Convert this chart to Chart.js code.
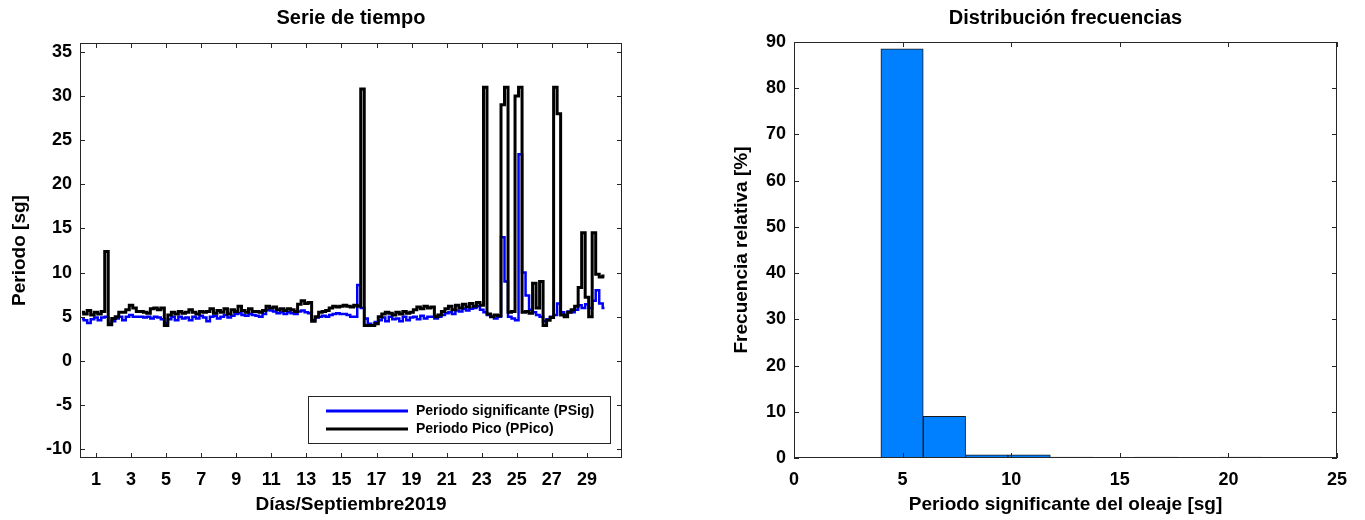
<!DOCTYPE html>
<html>
<head>
<meta charset="utf-8">
<script src="https://cdn.jsdelivr.net/npm/chart.js@4.4.1/dist/chart.umd.min.js"></script>
<style>
  body { margin: 0; background: #fff; width: 1365px; height: 520px; overflow: hidden; }
  .panel { position: absolute; top: 0; }
</style>
</head>
<body>
<div class="panel" style="left:0"><canvas id="serie" width="680" height="520"></canvas></div>
<div class="panel" style="left:680px"><canvas id="hist" width="685" height="520"></canvas></div>
<script>
// Datos
// Tiempo de la serie (dias de septiembre 2019), cada 0.2 dias
const dias = [
  0.2, 0.4, 0.6, 0.8, 1.0,   1.2, 1.4, 1.6, 1.8, 2.0,
  2.2, 2.4, 2.6, 2.8, 3.0,   3.2, 3.4, 3.6, 3.8, 4.0,
  4.2, 4.4, 4.6, 4.8, 5.0,   5.2, 5.4, 5.6, 5.8, 6.0,
  6.2, 6.4, 6.6, 6.8, 7.0,   7.2, 7.4, 7.6, 7.8, 8.0,
  8.2, 8.4, 8.6, 8.8, 9.0,   9.2, 9.4, 9.6, 9.8, 10.0,
  10.2, 10.4, 10.6, 10.8, 11.0,   11.2, 11.4, 11.6, 11.8, 12.0,
  12.2, 12.4, 12.6, 12.8, 13.0,   13.2, 13.4, 13.6, 13.8, 14.0,
  14.2, 14.4, 14.6, 14.8, 15.0,   15.2, 15.4, 15.6, 15.8, 16.0,
  16.2, 16.4, 16.6, 16.8, 17.0,   17.2, 17.4, 17.6, 17.8, 18.0,
  18.2, 18.4, 18.6, 18.8, 19.0,   19.2, 19.4, 19.6, 19.8, 20.0,
  20.2, 20.4, 20.6, 20.8, 21.0,   21.2, 21.4, 21.6, 21.8, 22.0,
  22.2, 22.4, 22.6, 22.8, 23.0,   23.2, 23.4, 23.6, 23.8, 24.0,
  24.2, 24.4, 24.6, 24.8, 25.0,   25.2, 25.4, 25.6, 25.8, 26.0,
  26.2, 26.4, 26.6, 26.8, 27.0,   27.2, 27.4, 27.6, 27.8, 28.0,
  28.2, 28.4, 28.6, 28.8, 29.0,   29.2, 29.4, 29.6, 29.8, 30.0
];

// Periodo significante (PSig) [sg]
const pSig = [
  4.8, 4.6, 4.3, 4.7, 4.9,   4.6, 4.9, 5.0, 4.2, 4.5,
  4.8, 5.0, 4.6, 5.0, 5.2,   5.0, 5.0, 5.0, 4.9, 5.0,
  4.8, 5.0, 4.9, 4.7, 4.3,   4.7, 5.0, 4.6, 5.0, 4.8,
  4.9, 4.6, 5.0, 4.8, 5.1,   4.9, 4.5, 5.0, 5.1, 4.8,
  5.0, 5.2, 4.9, 5.1, 5.3,   5.4, 5.2, 5.1, 5.3, 5.2,
  5.1, 5.0, 5.3, 5.8, 5.7,   5.6, 5.4, 5.5, 5.3, 5.5,
  5.4, 5.3, 5.6, 5.7, 5.5,   5.4, 4.6, 4.9, 5.0, 5.1,
  5.0, 5.2, 5.3, 5.4, 5.3,   5.3, 5.2, 5.0, 5.0, 8.6,
  6.0, 4.8, 4.2, 4.0, 4.4,   4.6, 4.9, 4.5, 5.0, 4.7,
  4.8, 4.5, 5.0, 4.6, 4.9,   5.0, 4.7, 5.1, 4.8, 5.0,
  5.0, 4.8, 5.0, 5.2, 5.4,   5.5, 5.3, 5.7, 5.6, 5.9,
  5.7, 5.9, 6.0, 6.2, 5.8,   5.5, 5.2, 5.0, 4.8, 5.0,
  14.0, 9.0, 5.0, 4.8, 4.6,   23.4, 10.0, 7.4, 5.8, 5.5,
  5.2, 5.0, 4.5, 4.7, 5.0,   5.2, 6.5, 5.5, 5.2, 5.6,
  5.5, 5.8, 6.3, 6.0, 6.4,   6.0, 6.8, 8.0, 6.5, 6.0
];

// Periodo pico (PPico) [sg]
const pPico = [
  5.5, 5.3, 5.7, 5.2, 5.5,   5.3, 5.6, 12.4, 4.1, 4.8,
  5.0, 5.5, 5.5, 5.8, 6.3,   6.0, 5.6, 5.6, 5.5, 5.4,
  5.9, 6.0, 5.8, 6.0, 4.0,   5.2, 5.5, 5.3, 5.6, 5.4,
  5.5, 5.8, 5.5, 5.3, 5.6,   5.5, 5.6, 5.9, 5.4, 5.7,
  5.5, 5.9, 5.3, 5.8, 5.6,   6.2, 5.7, 5.5, 5.9, 5.6,
  5.6, 5.5, 5.7, 6.2, 6.0,   6.1, 5.8, 5.9, 5.7, 5.9,
  5.8, 5.6, 6.4, 6.8, 6.5,   6.6, 4.5, 5.0, 5.5, 5.6,
  5.7, 6.0, 6.2, 6.1, 6.2,   6.3, 6.2, 6.1, 6.3, 6.2,
  30.8, 4.0, 4.0, 4.0, 4.2,   5.0, 5.3, 5.5, 5.4, 5.2,
  5.5, 5.3, 5.6, 5.4, 5.5,   5.8, 6.1, 5.9, 6.2, 6.0,
  6.1, 5.0, 5.2, 5.6, 5.9,   6.2, 5.8, 6.3, 6.0, 6.4,
  6.1, 6.5, 6.2, 6.6, 6.3,   31.0, 5.3, 5.0, 5.2, 5.1,
  29.0, 31.0, 5.5, 5.6, 30.0,   31.0, 5.5, 5.6, 5.4, 8.8,
  6.0, 9.0, 4.0, 4.6, 4.9,   31.0, 28.0, 5.2, 5.0, 5.5,
  5.8, 6.2, 8.3, 14.5, 7.2,   5.0, 14.5, 9.8, 9.5, 9.6
];

// Etiquetas de ejes
const diasTicks = [1, 3, 5, 7, 9, 11, 13, 15, 17, 19, 21, 23, 25, 27, 29];
const periodoTicks = [-10, -5, 0, 5, 10, 15, 20, 25, 30, 35];

// Histograma del periodo significante
const binCentros = [4.975, 6.925, 8.875, 10.825, 12.775, 14.725, 16.675, 18.625, 20.575, 22.525];
const frecuencias = [88.5, 9.0, 0.7, 0.7, 0.2, 0.1, 0.2, 0.1, 0.2, 0.1];
const histXTicks = [0, 5, 10, 15, 20, 25];
const histYTicks = [0, 10, 20, 30, 40, 50, 60, 70, 80, 90];

// Estilo general
Chart.defaults.font.family = '"Liberation Sans", Arial, sans-serif';
Chart.defaults.color = "#000";
Chart.defaults.animation = false;

const fuenteTick = { size: 18, weight: "bold" };
const fuenteEje = { size: 19, weight: "bold" };
const fuenteTitulo = { size: 20, weight: "bold" };

// Marco y ticks hacia adentro (estilo MATLAB)
const marcoMatlab = {
  id: "marcoMatlab",
  afterDatasetsDraw(chart) {
    const { ctx, chartArea: a, scales } = chart;
    const largo = 5;
    ctx.save();
    ctx.strokeStyle = "#262626";
    ctx.lineWidth = 1;
    ctx.beginPath();
    scales.x.ticks.forEach((t) => {
      const px = Math.round(scales.x.getPixelForValue(t.value)) + 0.5;
      ctx.moveTo(px, a.bottom);
      ctx.lineTo(px, a.bottom - largo);
      ctx.moveTo(px, a.top);
      ctx.lineTo(px, a.top + largo);
    });
    scales.y.ticks.forEach((t) => {
      const py = Math.round(scales.y.getPixelForValue(t.value)) + 0.5;
      ctx.moveTo(a.left, py);
      ctx.lineTo(a.left + largo, py);
      ctx.moveTo(a.right, py);
      ctx.lineTo(a.right - largo, py);
    });
    ctx.stroke();
    ctx.strokeRect(a.left + 0.5, a.top + 0.5, a.width - 1, a.height - 1);
    ctx.restore();
  },
};

// Leyenda dentro del area (abajo a la derecha)
const leyendaSerie = {
  id: "leyendaSerie",
  afterDraw(chart) {
    const { ctx, chartArea: a } = chart;
    const x0 = a.right - 314;
    const y0 = a.bottom - 62;
    const w = 302;
    const h = 47;
    ctx.save();
    ctx.fillStyle = "#fff";
    ctx.fillRect(x0, y0, w, h);
    ctx.strokeStyle = "#262626";
    ctx.lineWidth = 1;
    ctx.strokeRect(x0 + 0.5, y0 + 0.5, w, h);
    const items = chart.data.datasets;
    ctx.font = 'bold 14px "Liberation Sans", Arial, sans-serif';
    ctx.textBaseline = "middle";
    ctx.textAlign = "left";
    items.forEach((ds, i) => {
      const y = y0 + 15 + i * 18;
      ctx.strokeStyle = ds.borderColor;
      ctx.lineWidth = 3;
      ctx.beginPath();
      ctx.moveTo(x0 + 18, y);
      ctx.lineTo(x0 + 100, y);
      ctx.stroke();
      ctx.fillStyle = "#000";
      ctx.fillText(ds.label, x0 + 108, y);
    });
    ctx.restore();
  },
};

function fijarTicks(valores) {
  return (scale) => {
    scale.ticks = valores.map((v) => ({ value: v }));
  };
}

// Serie de tiempo
const ctxSerie = document.getElementById("serie").getContext("2d");
new Chart(ctxSerie, {
  type: "line",
  data: {
    datasets: [
      {
        label: "Periodo significante (PSig)",
        data: dias.map((d, i) => ({ x: d, y: pSig[i] })),
        borderColor: "#0000ff",
        borderWidth: 2.5,
        pointRadius: 0,
        stepped: "middle",
        order: 2,
      },
      {
        label: "Periodo Pico (PPico)",
        data: dias.map((d, i) => ({ x: d, y: pPico[i] })),
        borderColor: "#000000",
        borderWidth: 3,
        pointRadius: 0,
        stepped: "middle",
        order: 1,
      },
    ],
  },
  options: {
    responsive: false,
    layout: { padding: { left: 0, right: 58, top: 0, bottom: 0 } },
    plugins: {
      legend: { display: false },
      tooltip: { enabled: false },
      title: {
        display: true,
        text: "Serie de tiempo",
        fullSize: false,
        font: fuenteTitulo,
        padding: { top: 6, bottom: 13 },
      },
    },
    scales: {
      x: {
        type: "linear",
        min: 0.09,
        max: 31,
        afterBuildTicks: fijarTicks(diasTicks),
        afterFit: (s) => { s.height = 62; },
        grid: { display: false, drawTicks: false },
        border: { display: false },
        ticks: { font: fuenteTick, padding: 11, autoSkip: false, maxRotation: 0 },
        title: { display: true, text: "Días/Septiembre2019", font: fuenteEje, padding: { top: 0, bottom: 3.6 } },
      },
      y: {
        min: -11,
        max: 36,
        afterBuildTicks: fijarTicks(periodoTicks),
        afterFit: (s) => { s.width = 80; },
        grid: { display: false, drawTicks: false },
        border: { display: false },
        ticks: { font: fuenteTick, padding: 8 },
        title: { display: true, text: "Periodo [sg]", font: fuenteEje, padding: { top: 8.6, bottom: 0 } },
      },
    },
  },
  plugins: [marcoMatlab, leyendaSerie],
});

// Distribucion de frecuencias
const ctxHist = document.getElementById("hist").getContext("2d");
new Chart(ctxHist, {
  type: "bar",
  data: {
    datasets: [
      {
        label: "Frecuencia relativa",
        data: binCentros.map((c, i) => ({ x: c, y: frecuencias[i] })),
        backgroundColor: "#0080ff",
        borderColor: "#1a1a1a",
        borderWidth: 1,
        borderSkipped: false,
        barPercentage: 1,
        categoryPercentage: 1,
      },
    ],
  },
  options: {
    responsive: false,
    layout: { padding: { left: 0, right: 28, top: 0, bottom: 0 } },
    plugins: {
      legend: { display: false },
      tooltip: { enabled: false },
      title: {
        display: true,
        text: "Distribución frecuencias",
        fullSize: false,
        font: fuenteTitulo,
        padding: { top: 6, bottom: 12 },
      },
    },
    scales: {
      x: {
        type: "linear",
        offset: false,
        min: 0,
        max: 25,
        afterBuildTicks: fijarTicks(histXTicks),
        afterFit: (s) => { s.height = 62; },
        grid: { display: false, drawTicks: false, offset: false },
        border: { display: false },
        ticks: { font: fuenteTick, padding: 11, maxRotation: 0 },
        title: { display: true, text: "Periodo significante del oleaje [sg]", font: fuenteEje, padding: { top: 0, bottom: 3.6 } },
      },
      y: {
        min: 0,
        max: 90,
        afterBuildTicks: fijarTicks(histYTicks),
        afterFit: (s) => { s.width = 114; },
        grid: { display: false, drawTicks: false },
        border: { display: false },
        ticks: { font: fuenteTick, padding: 8 },
        title: { display: true, text: "Frecuencia relativa [%]", font: fuenteEje, padding: { top: 50.6, bottom: 0 } },
      },
    },
  },
  plugins: [marcoMatlab],
});
</script>
</body>
</html>
